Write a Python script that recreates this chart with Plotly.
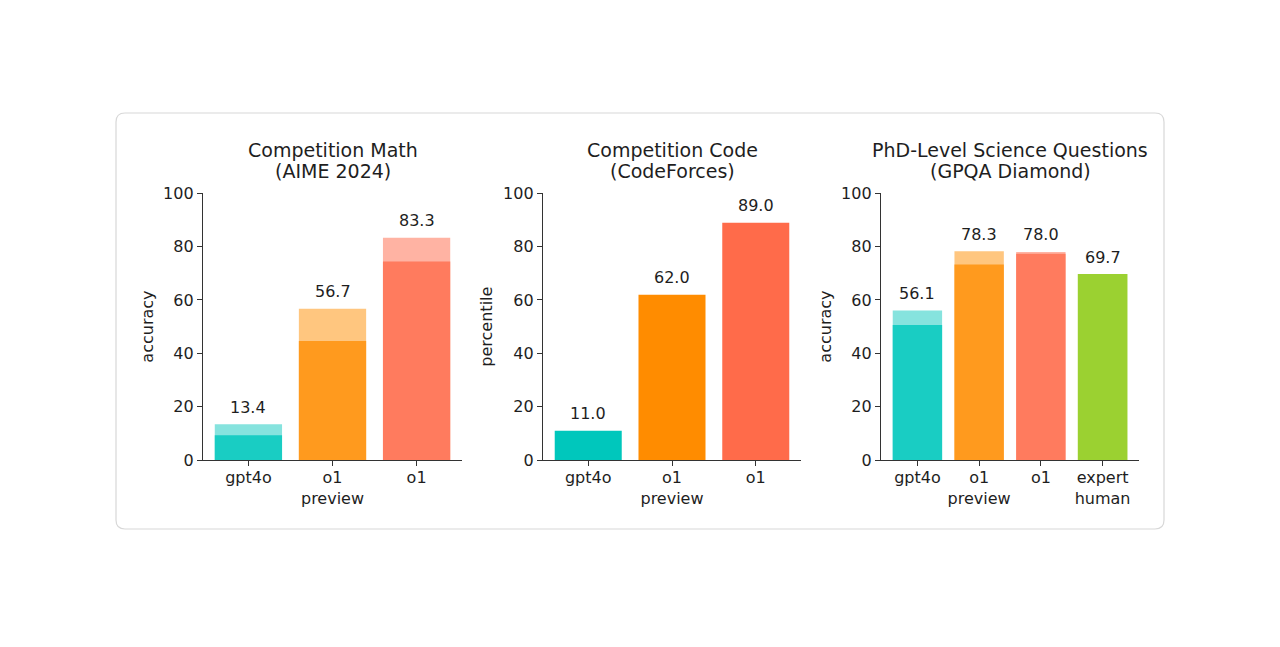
import plotly.graph_objects as go

# --- data ---
math_models = ["gpt4o", "o1<br>preview", "o1"]
math_pass1 = [9.3, 44.6, 74.4]
math_consensus = [13.4, 56.7, 83.3]

code_models = ["gpt4o", "o1<br>preview", "o1"]
code_percentile = [11.0, 62.0, 89.0]

gpqa_models = ["gpt4o", "o1<br>preview", "o1", "expert<br>human"]
gpqa_pass1 = [50.6, 73.3, 77.3, 69.7]
gpqa_consensus = [56.1, 78.3, 78.0, 69.7]

panel_titles = [("Competition Math", "(AIME 2024)"),
                ("Competition Code", "(CodeForces)"),
                ("PhD-Level Science Questions", "(GPQA Diamond)")]
y_titles = ["accuracy", "percentile", "accuracy"]
y_ticks = [0, 20, 40, 60, 80, 100]

# colours
solid_math = ["#19CDC3", "#FF9A1E", "#FF7B5E"]
light_math = ["#86E3DE", "#FFC67F", "#FFB3A3"]
solid_code = ["#00C7BC", "#FF8C00", "#FF6B4A"]
solid_gpqa = ["#19CDC3", "#FF9A1E", "#FF7B5E", "#9BD131"]
light_gpqa = ["#86E3DE", "#FFC67F", "#FFB3A3", "#9BD131"]

W, H = 1280, 647
FONT = "DejaVu Sans"
TXT = "#1E1E1E"
AX = "#333333"


def px_x(p):
    return p / W


def px_y(p):
    return (H - p) / H


# plot areas in pixels (left, right), shared top/bottom
domains = [(203, 462), (543, 801), (881, 1139)]
y_top, y_bot = 193.3, 460

fig = go.Figure()

# panel 1: consensus (light) behind pass@1 (solid)
fig.add_trace(go.Bar(x=list(range(len(math_models))), y=math_consensus,
                     marker=dict(color=light_math, line_width=0), width=0.8,
                     xaxis="x", yaxis="y", hoverinfo="skip"))
fig.add_trace(go.Bar(x=list(range(len(math_models))), y=math_pass1,
                     marker=dict(color=solid_math, line_width=0), width=0.8,
                     xaxis="x", yaxis="y"))
# panel 2
fig.add_trace(go.Bar(x=list(range(len(code_models))), y=code_percentile,
                     marker=dict(color=solid_code, line_width=0), width=0.8,
                     xaxis="x2", yaxis="y2"))
# panel 3
fig.add_trace(go.Bar(x=list(range(len(gpqa_models))), y=gpqa_consensus,
                     marker=dict(color=light_gpqa, line_width=0), width=0.8,
                     xaxis="x3", yaxis="y3", hoverinfo="skip"))
fig.add_trace(go.Bar(x=list(range(len(gpqa_models))), y=gpqa_pass1,
                     marker=dict(color=solid_gpqa, line_width=0), width=0.8,
                     xaxis="x3", yaxis="y3"))

annotations = []
label_sets = [(math_consensus, "x", "y"), (code_percentile, "x2", "y2"),
              (gpqa_consensus, "x3", "y3")]
for vals, xr, yr in label_sets:
    for i, v in enumerate(vals):
        annotations.append(dict(x=i, y=v, xref=xr, yref=yr, text=f"{v:.1f}",
                                showarrow=False, xanchor="center",
                                yanchor="middle", yshift=17,
                                font=dict(family=FONT, size=16, color=TXT)))

y_title_x = [148, 487, 826]
for k, ((l, r), (t1, t2)) in enumerate(zip(domains, panel_titles)):
    cx = px_x((l + r) / 2)
    annotations.append(dict(x=cx, y=px_y(150), xref="paper", yref="paper",
                            text=t1, showarrow=False, xanchor="center",
                            yanchor="middle",
                            font=dict(family=FONT, size=19, color=TXT)))
    annotations.append(dict(x=cx, y=px_y(171), xref="paper", yref="paper",
                            text=t2, showarrow=False, xanchor="center",
                            yanchor="middle",
                            font=dict(family=FONT, size=19, color=TXT)))
    annotations.append(dict(x=px_x(y_title_x[k]), y=px_y((y_top + y_bot) / 2),
                            xref="paper", yref="paper", text=y_titles[k],
                            textangle=-90, showarrow=False,
                            xanchor="center", yanchor="middle",
                            font=dict(family=FONT, size=16, color=TXT)))

axis_common = dict(showline=True, linecolor=AX, linewidth=1.3, ticks="outside",
                   ticklen=5, tickwidth=1.2, tickcolor=AX, showgrid=False,
                   zeroline=False, fixedrange=True, automargin=False,
                   tickfont=dict(family=FONT, size=16, color=TXT))

layout_axes = {}
names = [math_models, code_models, gpqa_models]
for k, (l, r) in enumerate(domains):
    n = len(names[k])
    pad = 0.4 + 0.05 * (n - 1 + 0.8)
    sx = "" if k == 0 else str(k + 1)
    layout_axes[f"xaxis{sx}"] = dict(axis_common, domain=[px_x(l), px_x(r)],
                                     range=[-pad, n - 1 + pad],
                                     tickvals=list(range(n)), ticktext=names[k],
                                     ticklabelstandoff=-2,
                                     anchor=f"y{sx}")
    layout_axes[f"yaxis{sx}"] = dict(axis_common, domain=[px_y(y_bot), px_y(y_top)],
                                     range=[0, 100], tickvals=y_ticks,
                                     anchor=f"x{sx}")

# rounded card behind the panels
cl, cr, ct, cb, rad = 116, 1164, 113, 529, 9
rx, ry = rad / W, rad / H
x0, x1, y0, y1 = px_x(cl), px_x(cr), px_y(cb), px_y(ct)
card = (f"M {x0 + rx},{y1} L {x1 - rx},{y1} Q {x1},{y1} {x1},{y1 - ry} "
        f"L {x1},{y0 + ry} Q {x1},{y0} {x1 - rx},{y0} "
        f"L {x0 + rx},{y0} Q {x0},{y0} {x0},{y0 + ry} "
        f"L {x0},{y1 - ry} Q {x0},{y1} {x0 + rx},{y1} Z")

fig.update_layout(
    template="none",
    width=W, height=H, autosize=False,
    margin=dict(l=0, r=0, t=0, b=0, autoexpand=False),
    paper_bgcolor="#FFFFFF", plot_bgcolor="rgba(0,0,0,0)",
    barmode="overlay", showlegend=False,
    annotations=annotations,
    shapes=[dict(type="path", path=card, xref="paper", yref="paper",
                 line=dict(color="#D8D8D8", width=1.2), fillcolor="#FFFFFF",
                 layer="below")],
    **layout_axes,
)
for tr in fig.data:
    tr.opacity = 1

fig.write_html("out.html", config={"displayModeBar": False},
               post_script="document.body.style.margin='0';")
